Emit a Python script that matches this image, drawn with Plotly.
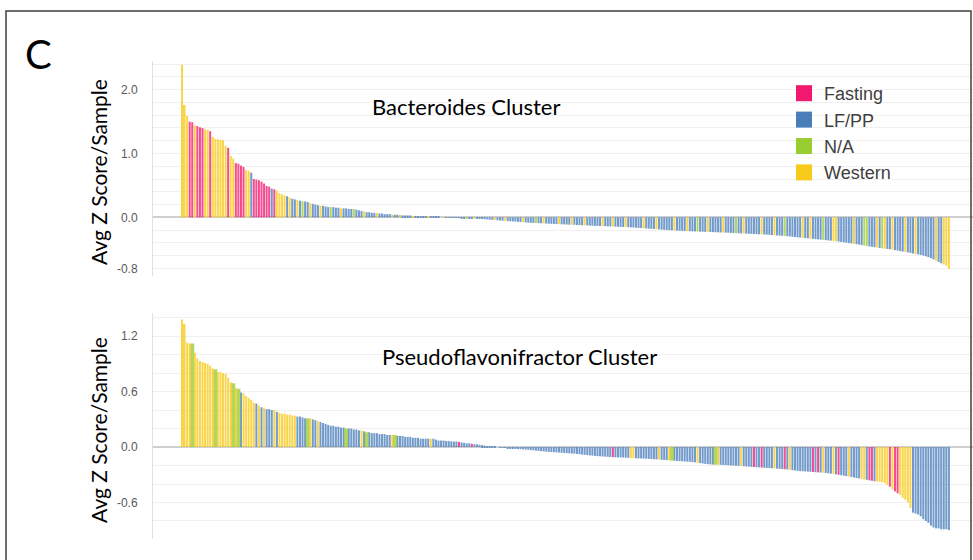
import plotly.graph_objects as go

# ---------------- data ----------------
categories = ["Fasting", "LF/PP", "N/A", "Western"]
cat_codes = {"F": "Fasting", "L": "LF/PP", "N": "N/A", "W": "Western"}
cat_colors = {"Fasting": "#F2186F", "LF/PP": "#4A7EBB", "N/A": "#9ACD32", "Western": "#F7C918"}

y_ticks_top = [-0.8, 0.0, 1.0, 2.0]
y_ticklabels_top = ["-0.8", "0.0", "1.0", "2.0"]
y_ticks_bot = [-0.6, 0.0, 0.6, 1.2]
y_ticklabels_bot = ["-0.6", "0.0", "0.6", "1.2"]

bacteroides_values = [
    2.39, 1.76, 1.59, 1.50, 1.49, 1.44, 1.43, 1.41, 1.40, 1.38,
    1.37, 1.35, 1.26, 1.23, 1.22, 1.21, 1.21, 1.12, 1.09, 0.96,
    0.92, 0.85, 0.84, 0.81, 0.79, 0.74, 0.73, 0.70, 0.60, 0.59,
    0.58, 0.56, 0.53, 0.49, 0.48, 0.45, 0.44, 0.42, 0.38, 0.36,
    0.34, 0.33, 0.31, 0.29, 0.28, 0.27, 0.26, 0.25, 0.25, 0.24,
    0.22, 0.21, 0.20, 0.19, 0.18, 0.18, 0.17, 0.16, 0.16, 0.16,
    0.15, 0.15, 0.14, 0.14, 0.14, 0.13, 0.13, 0.13, 0.12, 0.11,
    0.10, 0.09, 0.08, 0.08, 0.07, 0.07, 0.07, 0.06, 0.06, 0.05,
    0.05, 0.05, 0.04, 0.04, 0.04, 0.04, 0.03, 0.03, 0.03, 0.03,
    0.02, 0.02, 0.02, 0.02, 0.01, 0.01, 0.01, 0.01, 0.01, 0.01,
    0.005, 0.0, -0.003, -0.005, -0.006, -0.008, -0.01, -0.01, -0.01, -0.012,
    -0.013, -0.015, -0.016, -0.018, -0.02, -0.022, -0.025, -0.028, -0.03, -0.033,
    -0.036, -0.04, -0.043, -0.047, -0.05, -0.053, -0.056, -0.059, -0.062, -0.065,
    -0.068, -0.07, -0.073, -0.076, -0.08, -0.083, -0.086, -0.089, -0.09, -0.092,
    -0.094, -0.096, -0.098, -0.10, -0.102, -0.104, -0.106, -0.108, -0.11, -0.112,
    -0.113, -0.115, -0.117, -0.118, -0.12, -0.122, -0.124, -0.125, -0.127, -0.13,
    -0.132, -0.134, -0.135, -0.137, -0.138, -0.14, -0.142, -0.143, -0.145, -0.147,
    -0.148, -0.15, -0.152, -0.153, -0.155, -0.157, -0.16, -0.163, -0.166, -0.169,
    -0.172, -0.175, -0.178, -0.18, -0.183, -0.186, -0.19, -0.193, -0.196, -0.2,
    -0.202, -0.204, -0.206, -0.208, -0.21, -0.212, -0.214, -0.216, -0.218, -0.22,
    -0.222, -0.223, -0.225, -0.226, -0.228, -0.229, -0.231, -0.232, -0.234, -0.236,
    -0.237, -0.239, -0.24, -0.242, -0.244, -0.246, -0.248, -0.25, -0.252, -0.254,
    -0.256, -0.258, -0.26, -0.262, -0.264, -0.266, -0.268, -0.27, -0.272, -0.275,
    -0.278, -0.281, -0.284, -0.287, -0.29, -0.293, -0.297, -0.30, -0.305, -0.31,
    -0.315, -0.318, -0.322, -0.326, -0.33, -0.334, -0.338, -0.342, -0.346, -0.35,
    -0.354, -0.358, -0.362, -0.366, -0.37, -0.375, -0.38, -0.386, -0.392, -0.398,
    -0.404, -0.41, -0.416, -0.422, -0.428, -0.435, -0.442, -0.45, -0.456, -0.462,
    -0.468, -0.474, -0.48, -0.486, -0.49, -0.495, -0.50, -0.507, -0.514, -0.52,
    -0.53, -0.537, -0.544, -0.55, -0.558, -0.566, -0.574, -0.58, -0.59, -0.60,
    -0.61, -0.625, -0.64, -0.66, -0.68, -0.70, -0.72, -0.74, -0.76, -0.81,
]
bacteroides_groups = (
    "WWWFFWFFFW" "WFWWWWWWFW" "WFFFFWWLFF" "FFFFFLFWWW" "WLWLLWLNLL"
    "WLLLWLLLNL" "LLWLLLLNLL" "LWLLLLWLLL" "LLNLLWLLLL" "WLLLLLWLLL"
    "LLWLLLLLLL" "LNLLWLLLLL" "LLWLLLWLLL" "LLLWLLLLNL" "LWLLLLLWLL"
    "LLWLLLLWLL" "LLLLWLLLWL" "LLLWLLLLLL" "WLLLLWLLLL" "LLWLLLLWLL"
    "LNLLLWLLLL" "LWLLLLNLLW" "LLLLLLWLLL" "LWLLLNLLLL" "LLWLLWLLLL"
    "NLLLWWLLLL" "LLWLLLNNLL" "LWLNWLLWLL" "LLWLLLWLLL" "LLLLWLLWWW"
)

pseudo_values = [
    1.38, 1.33, 1.13, 1.12, 1.12, 1.02, 0.96, 0.93, 0.92, 0.91,
    0.90, 0.88, 0.85, 0.84, 0.81, 0.81, 0.80, 0.79, 0.75, 0.70,
    0.69, 0.64, 0.63, 0.59, 0.58, 0.55, 0.53, 0.51, 0.48, 0.47,
    0.45, 0.43, 0.42, 0.41, 0.41, 0.40, 0.40, 0.38, 0.37, 0.36,
    0.36, 0.35, 0.35, 0.34, 0.34, 0.33, 0.33, 0.32, 0.31, 0.31,
    0.31, 0.30, 0.29, 0.28, 0.27, 0.26, 0.25, 0.24, 0.23, 0.23,
    0.22, 0.22, 0.21, 0.21, 0.20, 0.20, 0.20, 0.19, 0.19, 0.18,
    0.18, 0.17, 0.16, 0.16, 0.15, 0.15, 0.15, 0.14, 0.14, 0.14,
    0.13, 0.13, 0.13, 0.13, 0.12, 0.12, 0.12, 0.11, 0.11, 0.11,
    0.10, 0.10, 0.10, 0.09, 0.09, 0.09, 0.09, 0.09, 0.09, 0.08,
    0.07, 0.07, 0.07, 0.065, 0.065, 0.06, 0.06, 0.06, 0.055, 0.05,
    0.045, 0.04, 0.04, 0.035, 0.03, 0.03, 0.025, 0.02, 0.015, 0.01,
    0.008, 0.005, 0.002, 0.0, -0.003, -0.006, -0.009, -0.012, -0.015, -0.018,
    -0.02, -0.022, -0.024, -0.026, -0.028, -0.03, -0.033, -0.036, -0.039, -0.042,
    -0.045, -0.048, -0.05, -0.052, -0.054, -0.056, -0.058, -0.06, -0.062, -0.064,
    -0.066, -0.068, -0.07, -0.072, -0.075, -0.078, -0.081, -0.084, -0.087, -0.09,
    -0.093, -0.096, -0.098, -0.10, -0.102, -0.104, -0.106, -0.108, -0.11, -0.111,
    -0.112, -0.113, -0.114, -0.115, -0.117, -0.119, -0.12, -0.122, -0.123, -0.124,
    -0.125, -0.126, -0.128, -0.13, -0.132, -0.134, -0.136, -0.138, -0.14, -0.142,
    -0.144, -0.146, -0.148, -0.15, -0.152, -0.154, -0.156, -0.158, -0.16, -0.163,
    -0.166, -0.17, -0.174, -0.178, -0.182, -0.185, -0.188, -0.19, -0.191, -0.192,
    -0.193, -0.194, -0.195, -0.197, -0.199, -0.20, -0.202, -0.204, -0.206, -0.208,
    -0.21, -0.212, -0.214, -0.216, -0.218, -0.22, -0.222, -0.224, -0.226, -0.228,
    -0.23, -0.232, -0.234, -0.236, -0.238, -0.24, -0.243, -0.246, -0.25, -0.254,
    -0.258, -0.26, -0.262, -0.264, -0.266, -0.268, -0.27, -0.272, -0.274, -0.276,
    -0.278, -0.28, -0.284, -0.288, -0.292, -0.296, -0.30, -0.305, -0.31, -0.315,
    -0.32, -0.325, -0.33, -0.335, -0.34, -0.345, -0.35, -0.355, -0.36, -0.365,
    -0.37, -0.372, -0.375, -0.38, -0.39, -0.41, -0.43, -0.46, -0.48, -0.50,
    -0.52, -0.55, -0.57, -0.60, -0.66, -0.71, -0.72, -0.73, -0.75, -0.78,
    -0.80, -0.82, -0.85, -0.87, -0.88, -0.88, -0.89, -0.89, -0.89, -0.90,
]
pseudo_groups = (
    "WWWWNWWWWW" "WWWNWWWWWW" "NWNLWWWWWL" "WLWLLLWLWW" "WWWWWLLLLN"
    "WLLWLLLLLL" "LLLLNLLLLL" "WLNLLLLLLL" "LLWNLLLLLL" "LLLLLLLWLL"
    "LLLLLLLLFL" "LLLFLLLLLL" "LLLLLLLLLL" "LLLLLLLLLL" "LLLLLLLLLL"
    "LLLLLLLLLL" "LLLLLLLLFL" "LLLLLWWLLL" "LLLLLLWLLL" "WNLLLLLLLL"
    "LWLLLLLLNW" "LLLLLLLLWL" "LLLFLLFLLL" "LWLLLFLWLL" "LLLLLLFLFL"
    "WLLLWLFLLL" "WLLLLWWLFF" "LWWWWWFWFF" "WWWWWLLLLL" "LLLLLLLLLL"
)

# ---------------- figure ----------------
W, H = 973, 560
def px(x): return x / W
def py(y): return 1 - y / H

fig = go.Figure()

def add_panel(values, groups, xa, ya):
    for cat in categories:
        xs = [i for i, g in enumerate(groups) if cat_codes[g] == cat]
        ys = [values[i] for i in xs]
        fig.add_trace(go.Bar(x=xs, y=ys, marker=dict(color=cat_colors[cat], line=dict(width=0), opacity=0.78),
                             name=cat, showlegend=False, xaxis=xa, yaxis=ya, hoverinfo="skip"))

add_panel(bacteroides_values, bacteroides_groups, "x", "y")
add_panel(pseudo_values, pseudo_groups, "x2", "y2")

# legend entries
for cat in categories:
    fig.add_trace(go.Scatter(x=[None], y=[None], mode="markers", name=cat,
                             marker=dict(symbol="square", size=18, color=cat_colors[cat]),
                             xaxis="x", yaxis="y", showlegend=True))

xr = [-11.3, 308.4]
grid_col = "#F0F0F0"
tickfont = dict(family="Liberation Sans, Arial", size=12, color="#595959")

common_x = dict(range=xr, showgrid=False, zeroline=False, showticklabels=False, ticks="", showline=False)
fig.update_layout(
    width=W, height=H,
    margin=dict(l=0, r=0, t=0, b=0),
    paper_bgcolor="white", plot_bgcolor="white",
    bargap=0.22, barmode="overlay",
    showlegend=True,
    legend=dict(x=px(784), y=py(75), xanchor="left", yanchor="top",
                font=dict(family="Liberation Sans, Arial", size=18, color="#404040"),
                bgcolor="rgba(0,0,0,0)", itemwidth=30, tracegroupgap=0),
    xaxis=dict(domain=[px(153), 1.0], anchor="y", **common_x),
    xaxis2=dict(domain=[px(153), 1.0], anchor="y2", **common_x),
    yaxis=dict(domain=[py(276), py(61)], anchor="x", range=[-0.92, 2.45],
               tickmode="array", tickvals=y_ticks_top, ticktext=y_ticklabels_top,
               showgrid=False, zeroline=True, zerolinecolor="#CFCFCF", zerolinewidth=2,
               showline=True, linecolor="#E0E0E0", linewidth=1,
               ticks="outside", ticklen=12, tickcolor="rgba(0,0,0,0)", tickfont=tickfont,
               minor=dict(tickmode="array", tickvals=[round(-0.8 + 0.2 * k, 1) for k in range(17)],
                          showgrid=True, gridcolor=grid_col, gridwidth=1, ticks="")),
    yaxis2=dict(domain=[py(539), py(313)], anchor="x2", range=[-0.995, 1.45],
                tickmode="array", tickvals=y_ticks_bot, ticktext=y_ticklabels_bot,
                showgrid=False, zeroline=True, zerolinecolor="#CFCFCF", zerolinewidth=2,
                showline=True, linecolor="#E0E0E0", linewidth=1,
                ticks="outside", ticklen=12, tickcolor="rgba(0,0,0,0)", tickfont=tickfont,
                minor=dict(tickmode="array", tickvals=[round(-0.8 + 0.2 * k, 1) for k in range(12)],
                           showgrid=True, gridcolor=grid_col, gridwidth=1, ticks="")),
)

def note(text, x, y, size, angle=0):
    fig.add_annotation(text=text, x=px(x), y=py(y), xref="paper", yref="paper",
                       xanchor="center", yanchor="middle", showarrow=False, textangle=angle,
                       font=dict(family="Lato, Carlito, Calibri", size=size, color="#000000"))

note("C", 38, 54, 40)
note("Bacteroides Cluster", 466, 106, 22)
note("Pseudoflavonifractor Cluster", 519, 356, 22)
note("Avg Z Score/Sample", 98, 172, 21, -90)
note("Avg Z Score/Sample", 98, 430, 21, -90)

# outer frame
fig.add_shape(type="rect", xref="paper", yref="paper", x0=px(6), y0=py(566), x1=px(971), y1=py(11),
              line=dict(color="#3F3F3F", width=1.5), fillcolor="rgba(0,0,0,0)", layer="above")

fig.write_html("out.html", config={"displayModeBar": False},
               post_script="document.body.style.margin='0';document.body.style.overflow='hidden';")
